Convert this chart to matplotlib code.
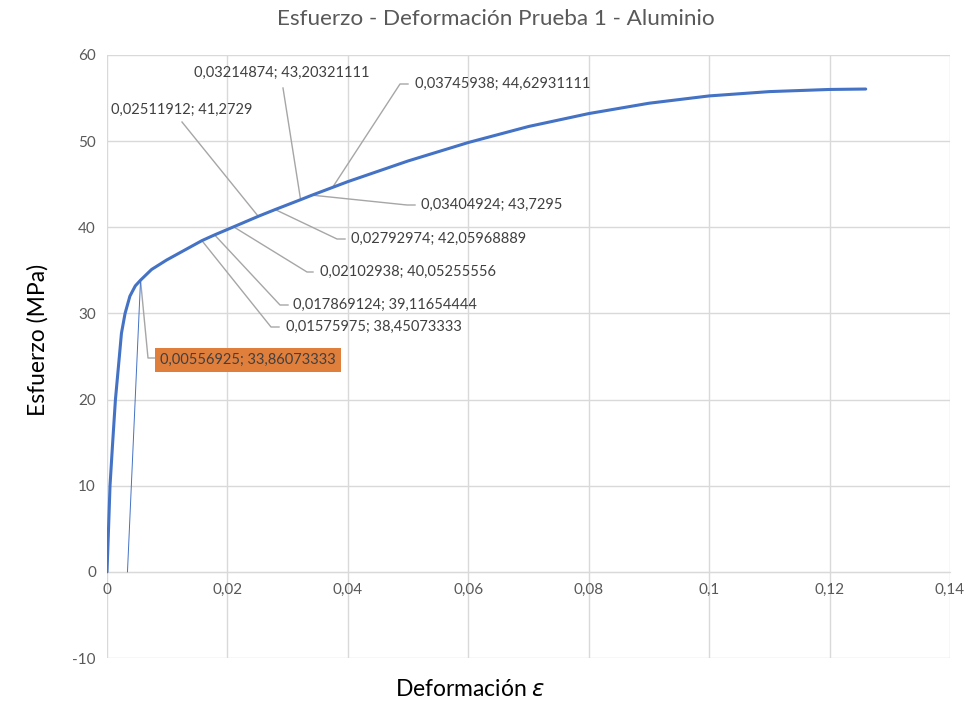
import matplotlib
matplotlib.use("Agg")
from matplotlib import pyplot as plt
import numpy as np

plt.rcParams['font.family'] = ['Lato', 'DejaVu Sans']

# curva esfuerzo-deformacion
deformacion = [0, 0.00027, 0.0005, 0.00094, 0.0014, 0.0020, 0.0024, 0.0030, 0.0038,
               0.0047, 0.00556925, 0.0074, 0.0099, 0.01575975, 0.017869124, 0.02102938,
               0.02511912, 0.02792974, 0.03214874, 0.03404924, 0.03745938, 0.04, 0.05,
               0.06, 0.07, 0.08, 0.09, 0.10, 0.11, 0.12, 0.126]
esfuerzo = [0, 5.3, 10, 15, 20, 24.6, 27.7, 30, 32.0,
            33.2, 33.86073333, 35.1, 36.2, 38.45073333, 39.11654444, 40.05255556,
            41.2729, 42.05968889, 43.20321111, 43.7295, 44.62931111, 45.3, 47.7,
            49.84, 51.7, 53.2, 54.4, 55.25, 55.75, 56.0, 56.05]

# recta de desplazamiento (offset)
offset_x = [0.0034, 0.00556925]
offset_y = [0, 33.86073333]

# puntos etiquetados
etiq_x = [0.00556925, 0.01575975, 0.017869124, 0.02102938, 0.02792974,
          0.03404924, 0.02511912, 0.03214874, 0.03745938]
etiq_y = [33.86073333, 38.45073333, 39.11654444, 40.05255556, 42.05968889,
          43.7295, 41.2729, 43.20321111, 44.62931111]

x_ticks = [0, 0.02, 0.04, 0.06, 0.08, 0.1, 0.12, 0.14]
y_ticks = [-10, 0, 10, 20, 30, 40, 50, 60]

W, H = 969, 705
L, R, T, B = 107, 950, 55, 658

fig = plt.figure(figsize=(W / 100, H / 100), dpi=100)
ax = fig.add_axes([L / W, 1 - B / H, (R - L) / W, (B - T) / H])
ax.set_xlim(0, 0.14)
ax.set_ylim(-10, 60)


def px(xp, yp):
    # pixel de la imagen -> coordenadas de datos
    return ((xp - L) / (R - L) * 0.14, 60 - (yp - T) / (B - T) * 70)


gris = '#D9D9D9'
for s in ax.spines.values():
    s.set_visible(False)
ax.spines['bottom'].set_visible(True)
ax.spines['bottom'].set_position(('data', 0))
ax.spines['bottom'].set_color(gris)
ax.set_xticks(x_ticks)
ax.set_yticks(y_ticks)
ax.set_xticklabels([str(v).replace('.', ',') if v else '0' for v in x_ticks])
ax.set_yticklabels([str(v) for v in y_ticks])
ax.tick_params(length=0, labelsize=11, labelcolor='#595959', pad=8)
ax.grid(True, color=gris, lw=1)
ax.set_axisbelow(True)

ax.plot(deformacion, esfuerzo, color='#4472C4', lw=2.2, solid_capstyle='round',
        solid_joinstyle='round', zorder=3)
ax.plot(offset_x, offset_y, color='#4472C4', lw=0.7, zorder=3)

fmt = lambda v: str(v).replace('.', ',')

# posiciones de las etiquetas (pixeles): texto x, y, alineacion, fin de guia
pos = [
    (160, 360, 'left', [(148, 358), (155, 358)]),
    (286, 327, 'left', [(271, 327), (279, 327)]),
    (293, 305, 'left', [(280, 305), (288, 305)]),
    (320, 272, 'left', [(307, 272), (313, 272)]),
    (351, 239, 'left', [(337, 239), (345, 239)]),
    (421, 205, 'left', [(407, 205), (415, 205)]),
    (182, 110, 'center', [(182, 122)]),
    (282, 73, 'center', [(283, 88)]),
    (415, 84, 'left', [(400, 84), (408, 84)]),
]
for i, (xe, ye) in enumerate(zip(etiq_x, etiq_y)):
    tx, ty, ha, guia = pos[i]
    gx = [xe] + [px(*g)[0] for g in guia]
    gy = [ye] + [px(*g)[1] for g in guia]
    ax.plot(gx, gy, color='#A6A6A6', lw=1, zorder=2)
    kw = {}
    if i == 0:
        kw['bbox'] = dict(boxstyle='square,pad=0.35', fc='#E07E3C', ec='none')
    ax.text(*px(tx, ty), fmt(xe) + '; ' + fmt(ye), ha=ha, va='center',
            fontsize=10.5, color='#404040', zorder=4, **kw)

fig.text(496 / W, 1 - 19 / H, 'Esfuerzo - Deformación Prueba 1 - Aluminio',
         ha='center', va='center', fontsize=16.2, color='#595959')
fig.text(38 / W, 1 - 340 / H, 'Esfuerzo (MPa)', rotation=90, ha='center',
         va='center', fontsize=16.5, color='black')
fig.text(470 / W, 1 - 690 / H, 'Deformación $\\varepsilon$', ha='center',
         va='center', fontsize=16.5, color='black')

fig.savefig('out.png', dpi=100)
